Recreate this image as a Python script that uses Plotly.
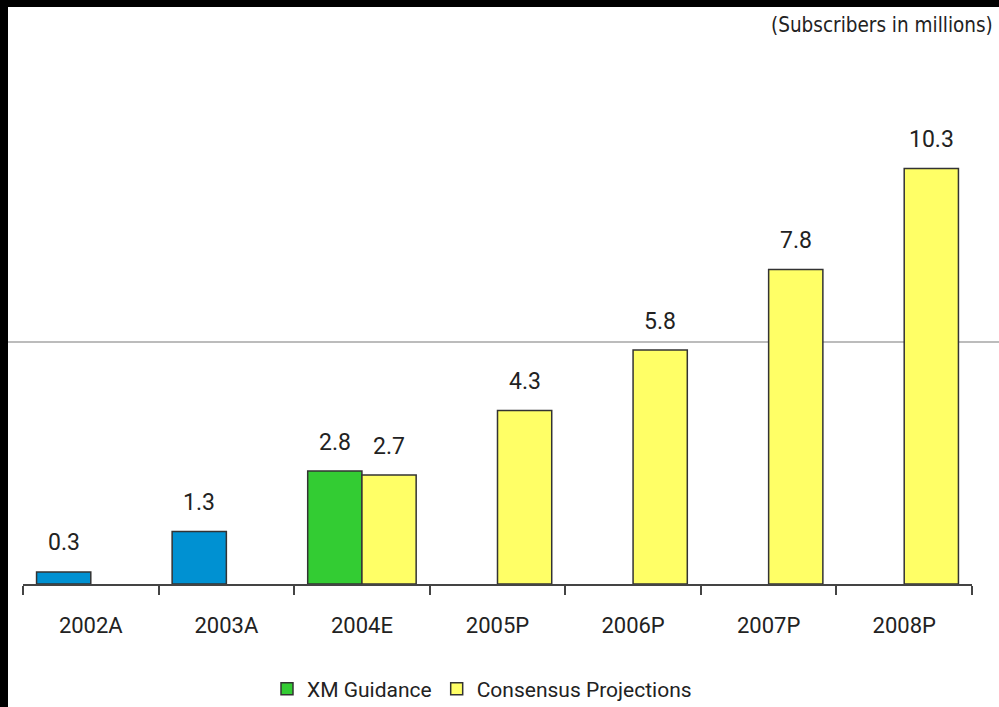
import plotly.graph_objects as go

# Subscriber counts (millions) by year
categories = ["2002A", "2003A", "2004E", "2005P", "2006P", "2007P", "2008P"]

actual_years = ["2002A", "2003A"]
actual_values = [0.3, 1.3]

guidance_years = ["2004E"]
guidance_values = [2.8]

consensus_years = ["2004E", "2005P", "2006P", "2007P", "2008P"]
consensus_values = [2.7, 4.3, 5.8, 7.8, 10.3]

REFERENCE_LEVEL = 6.0
Y_MAX = 12.0

FONT = "Roboto, Liberation Sans, sans-serif"
EDGE = "#333333"

W, H = 999, 707
ML, MR, MT, MB = 23, 27, 100, 123
PW, PH = W - ML - MR, H - MT - MB


def px_x(p):
    return (p - ML) / PW


def px_y(p):
    return (H - MB - p) / PH


fig = go.Figure()
fig.add_trace(go.Bar(
    x=actual_years, y=actual_values, name="Actual", showlegend=False,
    offsetgroup="a", marker=dict(color="#0091D2", line=dict(color=EDGE, width=1.5)),
))
fig.add_trace(go.Bar(
    x=guidance_years, y=guidance_values, name="XM Guidance",
    offsetgroup="a", marker=dict(color="#33CC33", line=dict(color=EDGE, width=1.5)),
))
fig.add_trace(go.Bar(
    x=consensus_years, y=consensus_values, name="Consensus Projections",
    offsetgroup="b", marker=dict(color="#FFFF66", line=dict(color=EDGE, width=1.5)),
))

# value labels above each bar
slot = PW / len(categories) * 0.8 / 2
annotations = []
for xs, ys, shift in [(actual_years, actual_values, -slot / 2),
                      (guidance_years, guidance_values, -slot / 2),
                      (consensus_years, consensus_values, slot / 2)]:
    for xv, yv in zip(xs, ys):
        annotations.append(dict(
            x=xv, y=yv, xref="x", yref="y", text=f"{yv:.1f}", showarrow=False,
            xshift=shift, yshift=29, yanchor="middle",
            font=dict(family=FONT, size=23, color="#222222"),
        ))

annotations.append(dict(
    x=px_x(995), y=px_y(25), xref="paper", yref="paper",
    text="(Subscribers in millions)", showarrow=False,
    xanchor="right", yanchor="middle",
    font=dict(family="DejaVu Sans Condensed, sans-serif", size=20.5, color="#222222"),
))

shapes = [
    # horizontal reference rule across the page
    dict(type="line", xref="paper", yref="y", x0=px_x(8), x1=px_x(W),
         y0=REFERENCE_LEVEL, y1=REFERENCE_LEVEL, layer="below",
         line=dict(color="#A6A6A6", width=1.5)),
    # black frame bands along the top and left edges
    dict(type="rect", xref="paper", yref="paper", x0=px_x(0), x1=px_x(W),
         y0=px_y(7), y1=px_y(0), fillcolor="black", line=dict(width=0)),
    dict(type="rect", xref="paper", yref="paper", x0=px_x(0), x1=px_x(8),
         y0=px_y(H), y1=px_y(0), fillcolor="black", line=dict(width=0)),
]

fig.update_layout(
    width=W, height=H,
    margin=dict(l=ML, r=MR, t=MT, b=MB, autoexpand=False),
    paper_bgcolor="white", plot_bgcolor="white",
    barmode="group", bargap=0.2, bargroupgap=0,
    annotations=annotations, shapes=shapes,
    legend=dict(orientation="h", x=px_x(482), y=px_y(689),
                xanchor="center", yanchor="middle",
                font=dict(family=FONT, size=21, color="#222222"),
                itemwidth=30, traceorder="normal"),
    xaxis=dict(type="category", categoryorder="array", categoryarray=categories,
               showline=True, linecolor="#444444", linewidth=1.5,
               ticks="outside", ticklen=9, tickwidth=1.5, tickcolor="#444444",
               tickson="boundaries", ticklabelstandoff=21,
               tickfont=dict(family=FONT, size=22, color="#222222"),
               showgrid=False, zeroline=False, fixedrange=True),
    yaxis=dict(range=[0, Y_MAX], visible=False, showgrid=False, zeroline=False),
    showlegend=True,
)

fig.write_html("out.html")
